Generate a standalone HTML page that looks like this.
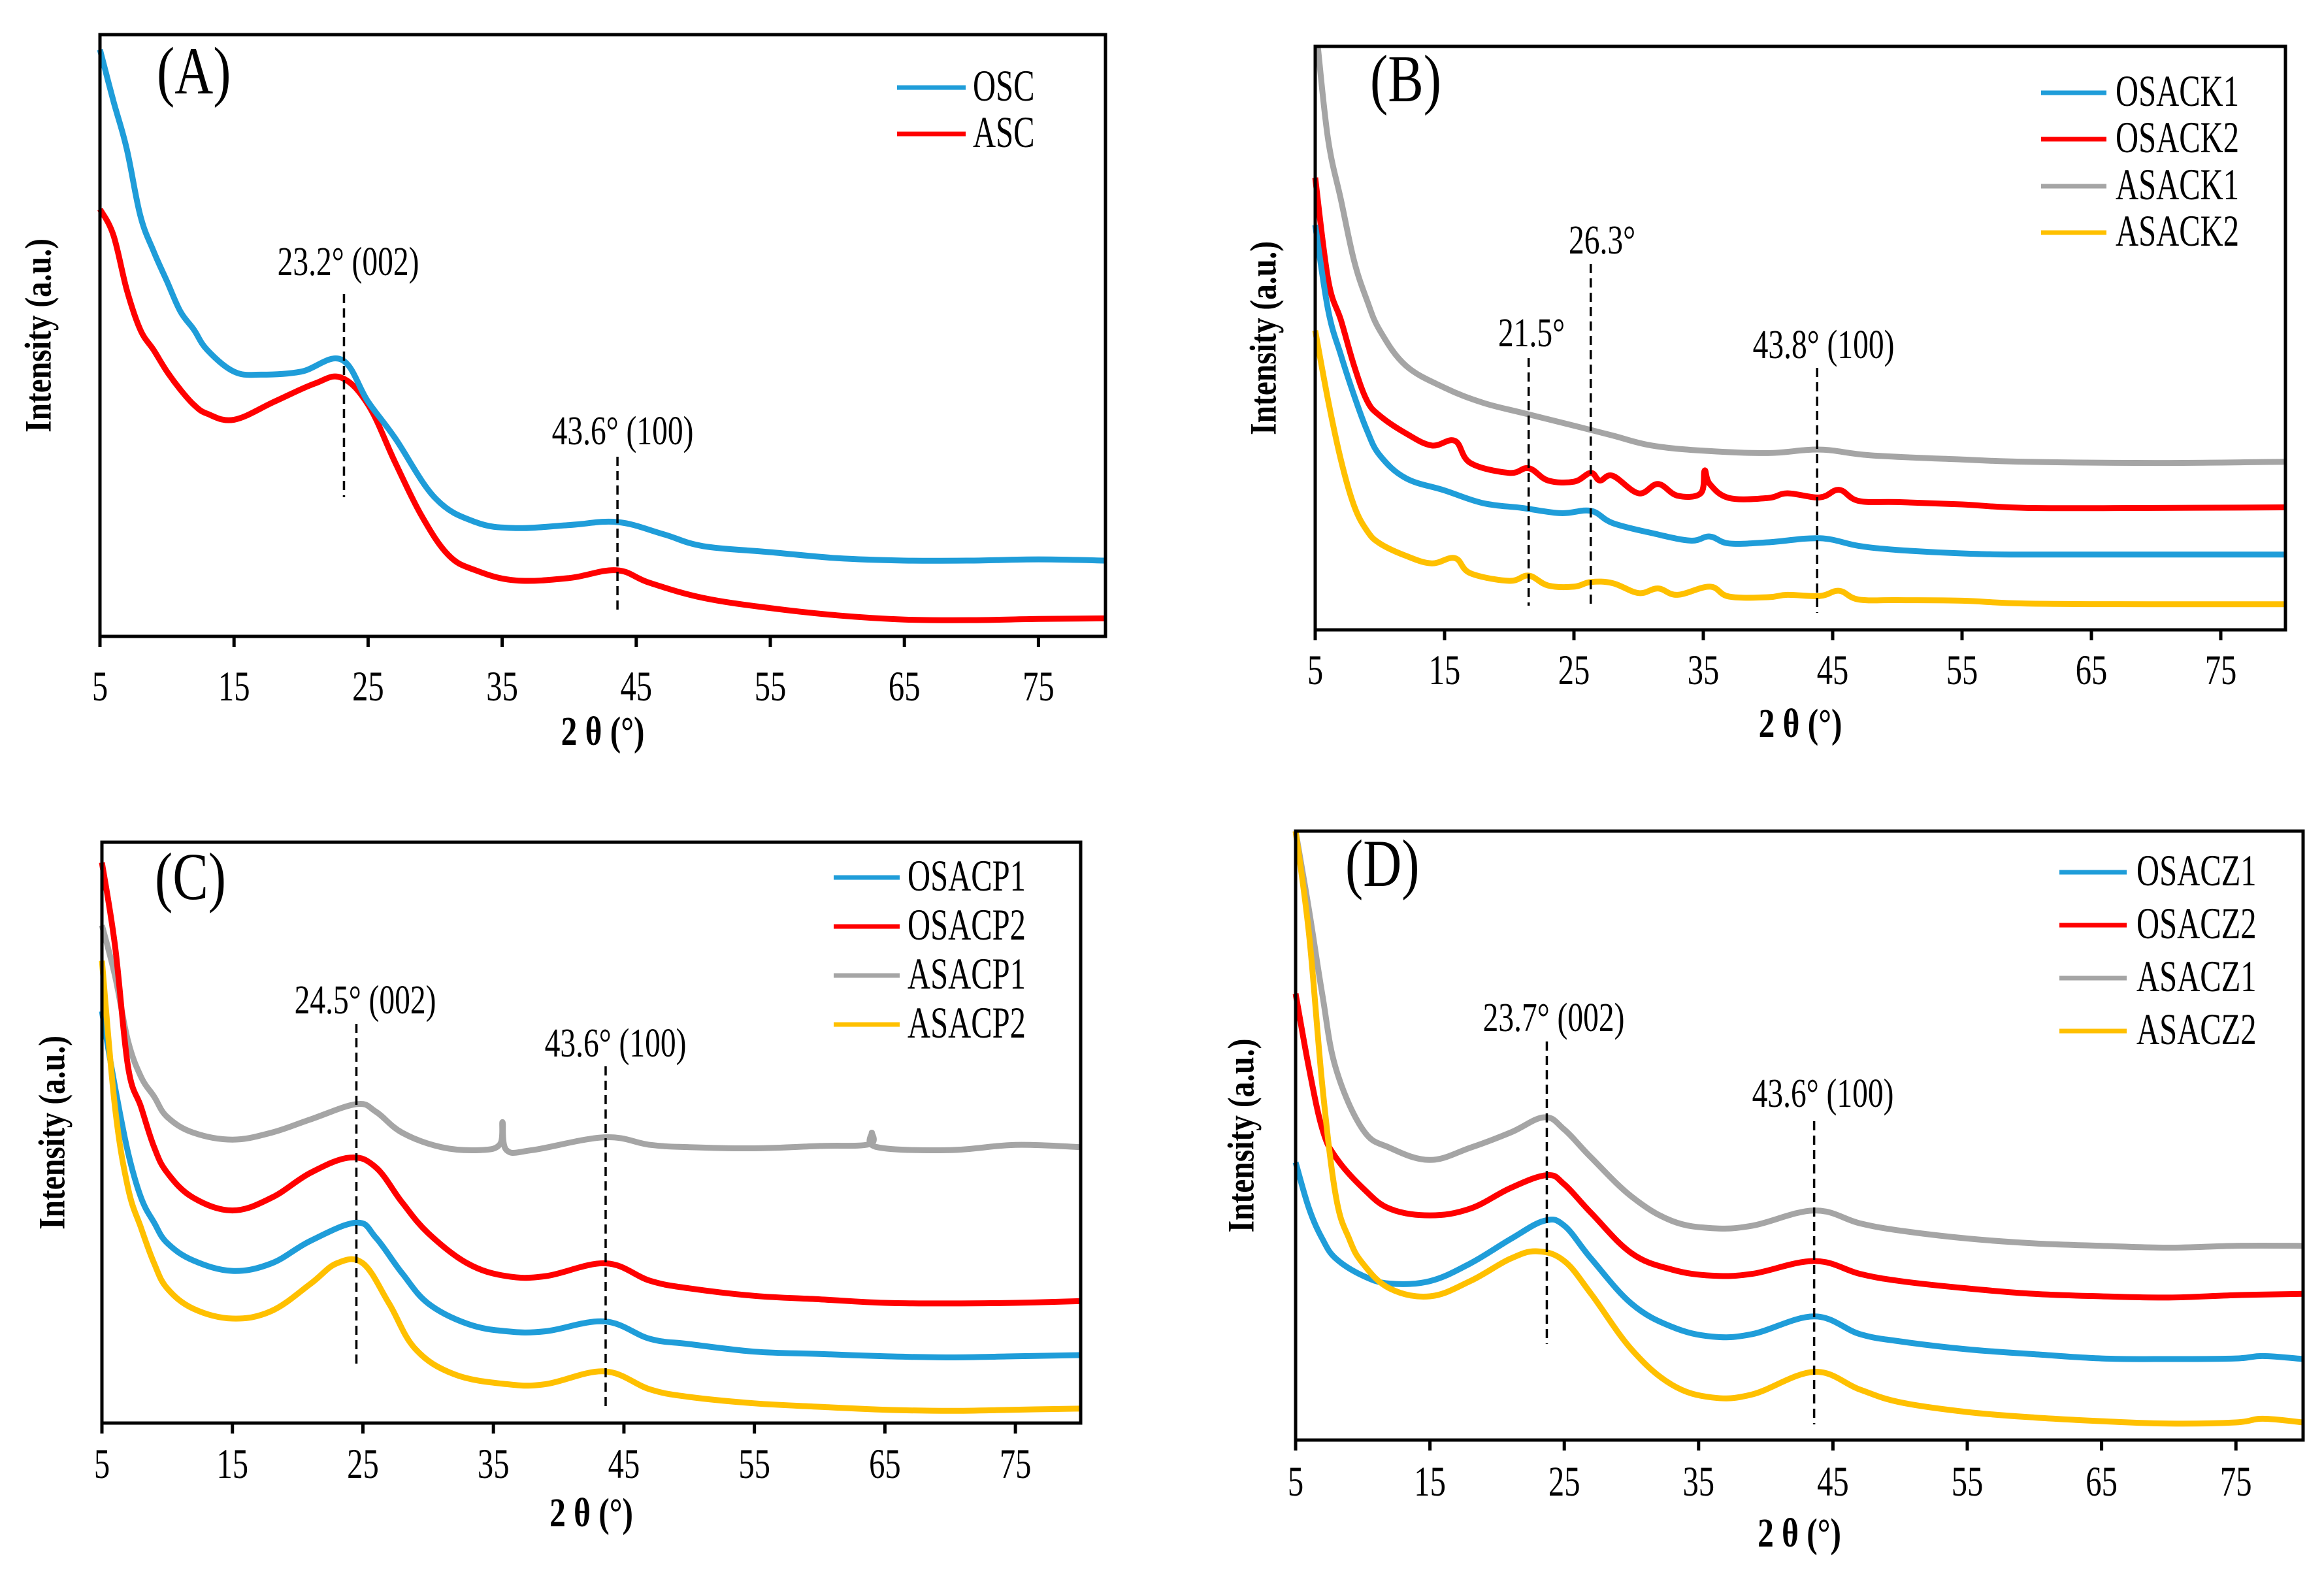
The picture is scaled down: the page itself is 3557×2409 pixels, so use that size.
<!DOCTYPE html>
<html><head><meta charset="utf-8"><style>
html,body{margin:0;padding:0;background:#fff;}
svg{display:block;}
text{font-family:"Liberation Serif",serif;fill:#000;}
</style></head><body>
<svg id="fig" width="3557" height="2409" viewBox="0 0 3557 2409" xmlns="http://www.w3.org/2000/svg"></svg>
<script>
// ---- Data (x = 2θ degrees, y = relative intensity, fraction of plot height) ----
const xTicks = [5,15,25,35,45,55,65,75];
// Panel A
const oscX = [5,6,7,8,9,10,11,12,13,15,17,20,23,25,27,30,33,36,40,43.6,47,50,55,60,65,70,75,80];
const oscY = [0.975,0.89,0.81,0.70,0.64,0.59,0.54,0.51,0.476,0.44,0.435,0.44,0.46,0.39,0.33,0.23,0.19,0.18,0.185,0.19,0.17,0.15,0.14,0.13,0.126,0.126,0.128,0.126];
const ascX = [5,6,7,8,9,10,11,12,13,15,18,21,23,25,27,29,31,33,36,40,43.5,46,50,55,60,65,70,75,80];
const ascY = [0.71,0.667,0.576,0.51,0.476,0.44,0.41,0.385,0.37,0.36,0.39,0.42,0.43,0.385,0.29,0.2,0.135,0.11,0.093,0.097,0.11,0.089,0.064,0.047,0.035,0.028,0.027,0.029,0.03];
// Panel B
const asack1X = [5.2,6,7,8,9,10,12,15,18,21,25,28,31,35,40,44,48,55,60,70,80];
const asack1Y = [1.0,0.84,0.736,0.633,0.565,0.513,0.453,0.415,0.389,0.372,0.35,0.333,0.316,0.307,0.303,0.309,0.299,0.292,0.288,0.286,0.288];
const osack2X = [5,6,7,8,9,10,12,14,15.8,17,20,21.5,23,25,26.3,27,28,30,31.5,33,34.8,35.1,35.5,37,40,41.5,44,45.5,47,50,55,60,70,80];
const osack2Y = [0.775,0.6,0.53,0.453,0.393,0.367,0.337,0.316,0.324,0.286,0.269,0.277,0.256,0.254,0.269,0.256,0.264,0.234,0.25,0.23,0.234,0.273,0.25,0.226,0.226,0.234,0.227,0.24,0.221,0.219,0.215,0.209,0.209,0.21];
const osack1X = [5,6,7,8,9,10,12,15,18,21,24,26.3,28,31,34,35.5,37,40,44,47,50,55,60,70,80];
const osack1Y = [0.694,0.548,0.47,0.402,0.342,0.299,0.26,0.239,0.217,0.209,0.2,0.204,0.183,0.166,0.153,0.16,0.148,0.15,0.157,0.144,0.137,0.131,0.129,0.129,0.129];
const asack2X = [5,6,7,8,9,10,12,14,15.8,17,20,21.5,23,25,26.3,28,30,31.5,33,35.5,37,40,41.5,44,45.5,47,50,55,60,70,80];
const asack2Y = [0.513,0.393,0.29,0.213,0.17,0.148,0.127,0.114,0.123,0.097,0.084,0.093,0.076,0.074,0.082,0.08,0.063,0.071,0.06,0.074,0.057,0.056,0.06,0.058,0.067,0.052,0.051,0.05,0.045,0.044,0.044];
// Panel C
const asacp1X = [5,6,7,8,9,10,12,15,18,21,24.5,26,28,31,34,35.5,35.7,36,38,43.5,47,50,55,60,63.8,64,64.4,70,75,80];
const asacp1Y = [0.857,0.77,0.658,0.596,0.562,0.527,0.5,0.488,0.5,0.523,0.549,0.536,0.5,0.475,0.47,0.48,0.518,0.47,0.47,0.492,0.479,0.475,0.473,0.477,0.48,0.5,0.475,0.47,0.479,0.475];
const osacp2X = [5,6,7,8,9,10,12,15,18,21,24,26,28,30,33,36,39,43.6,47,50,55,60,65,70,75,80];
const osacp2Y = [0.965,0.822,0.614,0.544,0.475,0.431,0.388,0.366,0.388,0.431,0.457,0.44,0.38,0.327,0.275,0.253,0.253,0.275,0.245,0.232,0.219,0.213,0.207,0.206,0.207,0.21];
const osacp1X = [5,6,7,8,9,10,12,15,18,21,24.5,26,28,30,33,36,39,43.5,47,50,55,60,65,70,75,80];
const osacp1Y = [0.709,0.579,0.466,0.388,0.345,0.31,0.28,0.262,0.275,0.314,0.345,0.319,0.258,0.206,0.171,0.158,0.158,0.175,0.145,0.136,0.123,0.119,0.115,0.113,0.115,0.117];
const asacp2X = [5,6,7,8,9,10,12,15,18,21,23,25,27,29,32,36,39,43.5,47,50,55,60,65,70,75,80];
const asacp2Y = [0.796,0.544,0.405,0.336,0.275,0.232,0.197,0.18,0.193,0.24,0.275,0.275,0.206,0.128,0.084,0.067,0.067,0.089,0.058,0.045,0.034,0.028,0.023,0.021,0.023,0.025];
// Panel D
const asacz1X = [5,6,7,8,10,12,15,18,21,23.5,25,27,30,33,36,39,43.6,47,50,55,60,65,70,75,80];
const asacz1Y = [1.0,0.87,0.73,0.61,0.51,0.48,0.46,0.48,0.505,0.53,0.51,0.464,0.4,0.36,0.348,0.352,0.377,0.356,0.344,0.331,0.323,0.319,0.316,0.319,0.319];
const osacz2X = [5,6,7,8,10,12,15,18,21,23.7,25,27,30,33,36,39,43.6,47,50,55,60,65,70,75,80];
const osacz2Y = [0.733,0.61,0.51,0.464,0.414,0.38,0.369,0.38,0.414,0.435,0.42,0.373,0.307,0.28,0.27,0.273,0.294,0.273,0.261,0.249,0.24,0.236,0.234,0.238,0.24];
const osacz1X = [5,6,7,8,10,12,15,18,21,23.5,25,27,30,33,36,39,43.6,47,50,55,60,65,70,75,77,80];
const osacz1Y = [0.456,0.38,0.33,0.298,0.27,0.257,0.261,0.29,0.33,0.36,0.352,0.298,0.224,0.186,0.17,0.174,0.203,0.174,0.162,0.149,0.141,0.134,0.133,0.134,0.138,0.133];
const asacz2X = [5,6,7,8,9,10,12,15,18,21,23,25,27,30,33,36,39,43.6,47,50,55,60,65,70,75,77,80];
const asacz2Y = [1.0,0.83,0.58,0.4,0.33,0.29,0.249,0.236,0.261,0.298,0.31,0.294,0.24,0.149,0.091,0.07,0.075,0.112,0.083,0.062,0.046,0.037,0.031,0.027,0.029,0.035,0.029];

const BLUE="#1f9dd9", RED="#ff0000", GRAY="#a5a5a5", YEL="#ffc000";
const panels = [
 {id:"a",label:"(A)",L:153,R:1692,T:53,B:974,labX:240,labY:143,
  ytitleX:59,xtitleY:1140,tickY:1072,
  legLine:[1373,1478],legText:1489,legY:[134,205],
  series:[["OSC",oscX,oscY,BLUE],["ASC",ascX,ascY,RED]],
  draw:[1,0],
  ann:[{x:23.2,txt:"23.2° (002)",tx:533,ty:415,y1:450,y2:761},{x:43.6,txt:"43.6° (100)",tx:953,ty:674,y1:699,y2:933}]},
 {id:"b",label:"(B)",L:2013,R:3498,T:71,B:964,labX:2097,labY:155,
  ytitleX:1934,xtitleY:1128,tickY:1047,
  legLine:[3124,3224],legText:3238,legY:[142,213,285,356],
  series:[["OSACK1",osack1X,osack1Y,BLUE],["OSACK2",osack2X,osack2Y,RED],["ASACK1",asack1X,asack1Y,GRAY],["ASACK2",asack2X,asack2Y,YEL]],
  draw:[2,1,0,3],
  ann:[{x:21.5,txt:"21.5°",tx:2344,ty:524,y1:548,y2:927},{x:26.3,txt:"26.3°",tx:2452,ty:382,y1:404,y2:931},{x:43.8,txt:"43.8° (100)",tx:2791,ty:542,y1:563,y2:938}]},
 {id:"c",label:"(C)",L:156,R:1654,T:1289,B:2178,labX:237,labY:1376,
  ytitleX:80,xtitleY:2336,tickY:2262,
  legLine:[1276,1377],legText:1389,legY:[1343,1418,1493,1568],
  series:[["OSACP1",osacp1X,osacp1Y,BLUE],["OSACP2",osacp2X,osacp2Y,RED],["ASACP1",asacp1X,asacp1Y,GRAY],["ASACP2",asacp2X,asacp2Y,YEL]],
  draw:[2,1,0,3],
  ann:[{x:24.5,txt:"24.5° (002)",tx:559,ty:1545,y1:1567,y2:2088},{x:43.6,txt:"43.6° (100)",tx:942,ty:1611,y1:1632,y2:2155}]},
 {id:"d",label:"(D)",L:1983,R:3525,T:1272,B:2204,labX:2059,labY:1356,
  ytitleX:1900,xtitleY:2367,tickY:2289,
  legLine:[3152,3255],legText:3270,legY:[1335,1416,1497,1578],
  series:[["OSACZ1",osacz1X,osacz1Y,BLUE],["OSACZ2",osacz2X,osacz2Y,RED],["ASACZ1",asacz1X,asacz1Y,GRAY],["ASACZ2",asacz2X,asacz2Y,YEL]],
  draw:[2,1,0,3],
  ann:[{x:23.7,txt:"23.7° (002)",tx:2378,ty:1572,y1:1594,y2:2057},{x:43.6,txt:"43.6° (100)",tx:2790,ty:1688,y1:1716,y2:2180}]}
];
const NS="http://www.w3.org/2000/svg";
const svg=document.getElementById("fig");
function mk(tag,attrs,parent){const e=document.createElementNS(NS,tag);for(const k in attrs)e.setAttribute(k,attrs[k]);(parent||svg).appendChild(e);return e;}
// condensed/tall text helper: scale x by sx, y by sy around anchor
function stext(parent,x,y,str,size,sx,sy,anchor,weight){
  const t=mk("text",{x:0,y:0,"font-size":size,"text-anchor":anchor||"start",transform:"translate("+x+" "+y+") scale("+sx+" "+sy+")"},parent);
  if(weight)t.setAttribute("font-weight",weight);
  t.textContent=str;return t;
}
function smoothPath(pts){
  let d="M"+pts[0][0].toFixed(1)+","+pts[0][1].toFixed(1);
  for(let i=0;i<pts.length-1;i++){
    const p0=pts[i-1]||pts[i],p1=pts[i],p2=pts[i+1],p3=pts[i+2]||p2;
    const t=0.18;
    const c1=[p1[0]+(p2[0]-p0[0])*t,p1[1]+(p2[1]-p0[1])*t];
    const c2=[p2[0]-(p3[0]-p1[0])*t,p2[1]-(p3[1]-p1[1])*t];
    d+=" C"+c1[0].toFixed(1)+","+c1[1].toFixed(1)+" "+c2[0].toFixed(1)+","+c2[1].toFixed(1)+" "+p2[0].toFixed(1)+","+p2[1].toFixed(1);
  }
  return d;
}
panels.forEach(p=>{
  const g=mk("g",{});
  
  
  const xs=v=>p.L+(v-5)/(80-5)*(p.R-p.L);
  const ys=f=>p.B-f*(p.B-p.T);
  p.draw.forEach(i=>{
    const s=p.series[i];
    const pts=s[1].map((x,k)=>[xs(x),ys(s[2][k])]);
    const path=mk("path",{d:smoothPath(pts),fill:"none",stroke:s[3],"stroke-width":9,"stroke-linejoin":"round"},g);
    
    
  });
  const fr=mk("rect",{x:p.L,y:p.T,width:p.R-p.L,height:p.B-p.T,fill:"none",stroke:"#000","stroke-width":5},g);
  
  
  xTicks.forEach(t=>{
    const tk=mk("line",{x1:xs(t),x2:xs(t),y1:p.B,y2:p.B+16,stroke:"#000","stroke-width":5},g);
    
    
    const tl=stext(g,xs(t),p.tickY,String(t),54,0.9,1.2,"middle");
    
    
  });
  const xt=stext(g,(p.L+p.R)/2,p.xtitleY,"2 θ (°)",52,0.95,1.2,"middle","bold");
  
  
  const yc=(p.T+p.B)/2;
  const yt=mk("text",{x:0,y:0,"text-anchor":"middle","dominant-baseline":"central","font-size":50,"font-weight":"bold",transform:"translate("+p.ytitleX+" "+yc+") rotate(-90) scale(0.95 1.15)"},g);
  yt.textContent="Intensity (a.u.)";
  
  
  const pl=stext(g,p.labX,p.labY,p.label,86,0.95,1.2);
  
  
  p.series.forEach((s,i)=>{
    const ly=p.legY[i];
    const ll=mk("line",{x1:p.legLine[0],x2:p.legLine[1],y1:ly,y2:ly,stroke:s[3],"stroke-width":7},g);
    
    
    const lt=stext(g,p.legText,ly+20,s[0],54,0.9,1.25);
    
    
  });
  p.ann.forEach(a=>{
    const dl=mk("line",{x1:xs(a.x),x2:xs(a.x),y1:a.y1,y2:a.y2,stroke:"#000","stroke-width":3.5,"stroke-dasharray":"14 8"},g);
    
    
    const at=stext(g,a.tx,a.ty+6,a.txt,50,0.95,1.25,"middle");
    
    
  });
});
</script>
</body></html>
